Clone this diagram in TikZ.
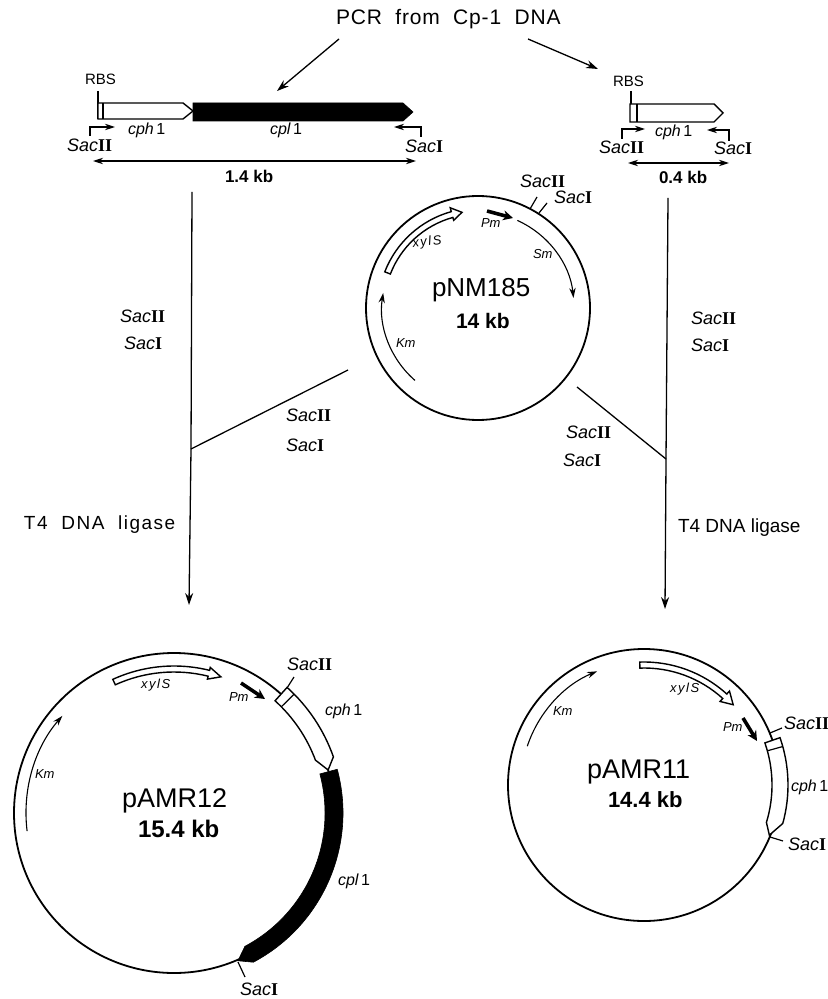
\documentclass[tikz,border=0pt]{standalone}
\usepackage{fontspec}
\setmainfont{Liberation Sans}
\newfontfamily\numfont{Liberation Serif}
\usepackage{xcolor}
\usepackage{tikz}
\usetikzlibrary{arrows.meta}
\newcommand{\sacii}{\textit{Sac}{\numfont\bfseries II}}
\newcommand{\saci}{\textit{Sac}{\numfont\bfseries I}}
\tikzset{
  lab/.style={inner sep=0pt,outer sep=0pt,anchor=base west,text=black},
  title/.style={lab,font=\fontsize{10.5}{12}\selectfont\addfontfeature{LetterSpace=4}},
  site/.style={lab,font=\fontsize{9}{11}\selectfont},
  gene/.style={lab,font=\fontsize{8}{10}\selectfont\itshape},
  tiny/.style={lab,font=\fontsize{6.5}{8}\selectfont\itshape},
  spaced/.style={lab,font=\fontsize{6.5}{8}\selectfont\itshape\addfontfeature{LetterSpace=12}},
  size/.style={lab,font=\fontsize{8.5}{10}\selectfont\bfseries},
  ligase/.style={lab,font=\fontsize{9.5}{11}\selectfont},
  plasmid/.style={draw=black,line width=0.9pt},
  band/.style={fill=white,draw=black,line width=0.7pt},
  solidband/.style={fill=black,draw=black,line width=0.3pt},
  flow/.style={draw=black,line width=0.65pt},
  flowtip/.style={flow,-{Stealth[length=6pt,width=4pt]}},
  marker/.style={draw=black,line width=0.55pt,-{Stealth[length=5pt,width=3.2pt]}},
  promoter/.style={draw=black,line width=1.8pt,-{Stealth[length=5pt,width=5pt]}},
  tick/.style={draw=black,line width=0.6pt}
}
\begin{document}
\begin{tikzpicture}[x=.5pt,y=-.5pt]
\path[use as bounding box] (0,0) rectangle (828,999);
\path[fill=white,draw=none] (0,0) rectangle (828,999);
% top
\node[title] (pcr) at (336,25) {PCR\ \ from\ \ Cp-1\ \ DNA};
\coordinate (pcrLa) at (339,39);
\coordinate (pcrLb) at (277,91);
\coordinate (pcrRa) at (528,39);
\coordinate (pcrRb) at (598,69);
\draw[flowtip] (pcrLa) -- (pcrLb);
\draw[flowtip] (pcrRa) -- (pcrRb);
% long fragment
\node[lab,font=\fontsize{7.5}{9}\selectfont] (rbsL) at (85,85) {RBS};
\draw[tick] (98,91) -- (98,119);
\path[band] (98,103) -- (183,103) -- (193,111) -- (183,119) -- (98,119) -- cycle;
\draw[tick] (103,103) -- (103,119);
\path[solidband] (193,103) -- (403,103) -- (413,112) -- (403,121) -- (193,121) -- cycle;
\draw[marker] (90,136) |- (115,127);
\draw[marker] (421,137) |- (394,127);
\node[gene] (cphL) at (128,135) {cph\,{\upshape 1}};
\node[gene] (cplL) at (270,135) {cpl\,{\upshape 1}};
\node[site] (sacIIL) at (67,152) {\sacii};
\node[site] (sacIL) at (405,153) {\saci};
\draw[marker,{Stealth[length=5pt,width=3.2pt]}-{Stealth[length=5pt,width=3.2pt]}] (93,161) -- (416,161);
\node[size] (kbL) at (225,183) {1.4 kb};
% short fragment
\node[lab,font=\fontsize{7.5}{9}\selectfont] (rbsR) at (613,87) {RBS};
\draw[tick] (631,91) -- (631,122);
\path[band] (630,104) -- (714,104) -- (723,113) -- (714,122) -- (630,122) -- cycle;
\draw[tick] (637,104) -- (637,122);
\draw[marker] (622,139) |- (645,129);
\draw[marker] (729,141) |- (707,130);
\node[gene] (cphR) at (655,137) {cph\,{\upshape 1}};
\node[site] (sacIIR) at (599,154) {\sacii};
\node[site] (sacIR) at (714,155) {\saci};
\draw[marker,{Stealth[length=5pt,width=3.2pt]}-{Stealth[length=5pt,width=3.2pt]}] (628,163) -- (729,163);
\node[size] (kbR) at (659,184) {0.4 kb};
% pNM185
\begin{scope}[shift={(478,308)}]
\draw[plasmid] (0,0) circle[radius=112];
\path[band] (-158.8:100) arc[start angle=-158.8,end angle=-105.5,radius=100] -- (-105.5:104) -- (-99.5:97) -- (-105.5:91) -- (-105.5:94) arc[start angle=-105.5,end angle=-158.8,radius=94] -- cycle;
\draw[marker] (131:96) arc[start angle=131,end angle=189,radius=96];
\draw[marker] (-65.8:96) arc[start angle=-65.8,end angle=-6,radius=96];
\end{scope}
\draw[promoter] (487,211) -- (513,218);
\draw[tick] (530,209) -- (537,197);
\draw[tick] (539,213) -- (547,203);
\node[site] (sacIIM) at (520,188) {\sacii};
\node[site] (sacIM) at (554,204) {\saci};
\node[spaced,rotate=8] (xylM) at (413,248) {xylS};
\node[tiny] (pmM) at (481,228) {Pm};
\node[tiny] (smM) at (533,259) {Sm};
\node[tiny] (kmM) at (396,348) {Km};
\node[lab,font=\fontsize{13}{15}\selectfont] (pnm) at (432,297) {pNM185};
\node[lab,font=\fontsize{10.5}{12}\selectfont\bfseries] (pnmkb) at (456,329) {14 kb};
% ligations
\coordinate (leftA) at (192,192);
\coordinate (leftJ) at (191,449);
\coordinate (leftB) at (189,605);
\coordinate (leftV) at (348,370);
\coordinate (rightA) at (668,198);
\coordinate (rightJ) at (666,459);
\coordinate (rightB) at (665,609);
\coordinate (rightV) at (577,387);
\draw[flow] (leftA) -- (leftJ);
\draw[flowtip] (leftJ) -- (leftB);
\draw[flow] (leftV) -- (leftJ);
\draw[flow] (rightA) -- (rightJ);
\draw[flowtip] (rightJ) -- (rightB);
\draw[flow] (rightV) -- (rightJ);
\node[site] (sacIIa) at (120,323) {\sacii};
\node[site] (sacIa) at (124,350) {\saci};
\node[site] (sacIIb) at (286,422) {\sacii};
\node[site] (sacIb) at (286,451) {\saci};
\node[site] (sacIIc) at (691,325) {\sacii};
\node[site] (sacIc) at (691,352) {\saci};
\node[site] (sacIId) at (566,438) {\sacii};
\node[site] (sacId) at (563,466) {\saci};
\node[ligase,font=\fontsize{9.5}{11}\selectfont\addfontfeature{LetterSpace=8}] (ligL) at (24,529) {T4\ \ DNA\ \ ligase};
\node[ligase] (ligR) at (678,532) {T4\ DNA\ ligase};
% pAMR12
\begin{scope}[shift={(174,813)}]
\draw[plasmid] (0,0) circle[radius=160];
\path[band] (-48:151) arc[start angle=-48,end angle=-20.5,radius=151] -- (-15.6:160) -- (-19.4:169) arc[start angle=-19.4,end angle=-48,radius=169] -- cycle;
\draw[tick] (-44.7:151) -- (-44.7:169);
\path[solidband] (-15:151) arc[start angle=-15,end angle=62,radius=151] -- (66.6:161) -- (62:169) arc[start angle=62,end angle=-15,radius=169] -- cycle;
\path[band] (-114.6:147) arc[start angle=-114.6,end angle=-76,radius=147] -- (-76:150) -- (-71:144) -- (-76:138) -- (-76:141) arc[start angle=-76,end angle=-114.6,radius=141] -- cycle;
\draw[marker] (-187:148) arc[start angle=-187,end angle=-139,radius=148];
\end{scope}
\draw[promoter] (241,683) -- (265,699);
\draw[tick] (287,688) -- (294,677);
\draw[tick] (238,962) -- (245,977);
\node[spaced] (xylA) at (141,688) {xylS};
\node[tiny] (pmA) at (229,701) {Pm};
\node[tiny] (kmA) at (35,778) {Km};
\node[site] (sacIIA) at (287,670) {\sacii};
\node[gene] (cphA) at (325,715) {cph\,{\upshape 1}};
\node[gene] (cplA) at (338,885) {cpl\,{\upshape 1}};
\node[site] (sacIA) at (240,995) {\saci};
\node[lab,font=\fontsize{13.5}{15}\selectfont] (pamrA) at (122,807) {pAMR12};
\node[lab,font=\fontsize{12}{14}\selectfont\bfseries] (pamrAkb) at (138,837) {15.4\ kb};
% pAMR11
\begin{scope}[shift={(644,785)}]
\draw[plasmid] (0,0) circle[radius=136];
\path[band] (-19.2:128) arc[start angle=-19.2,end angle=17,radius=128] -- (21.8:135) -- (15.5:144) arc[start angle=15.5,end angle=-19.2,radius=144] -- cycle;
\draw[tick] (-15.5:128) -- (-15.5:144);
\path[band] (-92:123) arc[start angle=-92,end angle=-47.7,radius=123] -- (-47.7:127) -- (-42:120) -- (-47.7:113) -- (-47.7:117) arc[start angle=-47.7,end angle=-92,radius=117] -- cycle;
\draw[marker] (-161.6:123) arc[start angle=-161.6,end angle=-112.4,radius=123];
\end{scope}
\draw[promoter] (743,718) -- (757,741);
\draw[tick] (770,733) -- (782,728);
\draw[tick] (770,837) -- (783,841);
\node[spaced] (xylB) at (670,692) {xylS};
\node[tiny] (pmB) at (723,731) {Pm};
\node[tiny] (kmB) at (553,715) {Km};
\node[site] (sacIIB) at (784,729) {\sacii};
\node[gene] (cphB) at (791,791) {cph\,{\upshape 1}};
\node[site] (sacIB) at (788,850) {\saci};
\node[lab,font=\fontsize{13.5}{15}\selectfont] (pamrB) at (587,778) {pAMR11};
\node[lab,font=\fontsize{11}{13}\selectfont\bfseries] (pamrBkb) at (608,807) {14.4 kb};
\end{tikzpicture}
\end{document}
